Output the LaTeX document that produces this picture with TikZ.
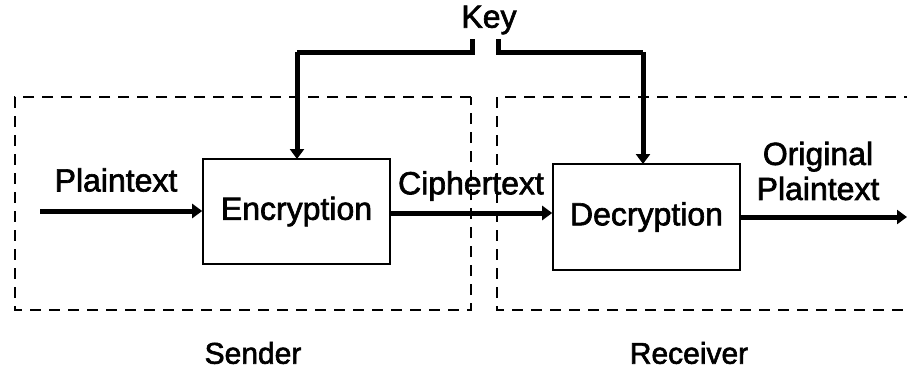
\documentclass[tikz,border=0pt]{standalone}
\usepackage{fontspec}
\setmainfont{Liberation Sans}
\newfontfamily\heavyfont{Liberation Sans}[FakeBold=2]
\usetikzlibrary{arrows.meta}
\begin{document}
\begin{tikzpicture}[x=1pt,y=-1pt,
  lbl/.style={font=\heavyfont\fontsize{32}{35}\selectfont, inner sep=0pt, anchor=center},
  lblsmall/.style={font=\heavyfont\fontsize{30}{33}\selectfont, inner sep=0pt, anchor=center},
  blk/.style={draw, line width=1.6pt, inner sep=0pt},
  flow/.style={line width=5pt, -{Triangle[width=14pt,length=10pt]}},
  keyline/.style={line width=5pt},
  zone/.style={draw, line width=1.5pt, dash pattern=on 11pt off 8pt}]
\useasboundingbox (0,0) rectangle (907,370);
% zones
\draw[zone] (471,97) -- (15,97) -- (15,310) -- (471,310) -- cycle;
\draw[zone] (915,97) -- (497,97) -- (497,310) -- (915,310);
% blocks
\node[blk, minimum width=187pt, minimum height=105pt] (enc) at (296.5,211.5) {};
\node[blk, minimum width=187pt, minimum height=106pt] (dec) at (646.5,217) {};
\node[lbl] at (enc.center) {Encryption};
\node[lbl] at (dec.center) {Decryption};
% labels
\node[lbl] (key) at (489,20) {Key};
\node[lbl] (pt) at (116,180) {Plaintext};
\node[lbl] (ct) at (471,186) {Ciphertext};
\node[lbl, align=center] (opt) at (818,171) {Original\\Plaintext};
\node[lblsmall] (snd) at (253,353) {Sender};
\node[lblsmall] (rcv) at (689,353) {Receiver};
% coordinates
\coordinate (in) at (40,211);
\coordinate (out) at (907,217);
\coordinate (kl) at (472,39);
\coordinate (kr) at (498,39);
% flows
\draw[flow] (in) -- (in -| enc.west);
\draw[flow] (enc.east |- 0,213) -- (dec.west |- 0,213);
\draw[flow] (dec.east |- out) -- (out);
% key lines
\draw[keyline] (kl) -- (472,52) -- (297,52);
\draw[flow] (297,52) -- (297,159);
\draw[keyline] (kr) -- (498,52) -- (643,52);
\draw[flow] (643,52) -- (643,164);
\end{tikzpicture}
\end{document}
